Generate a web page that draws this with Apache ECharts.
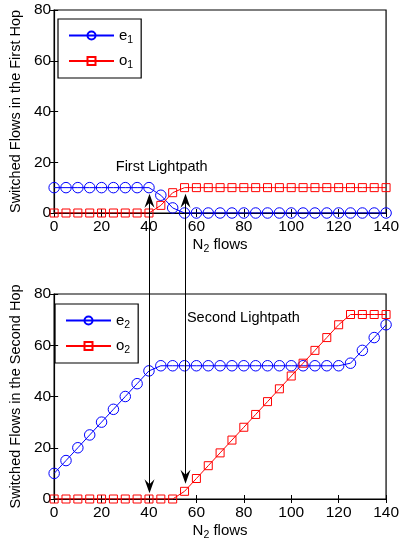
<!DOCTYPE html>
<html lang="en">
<head>
<meta charset="UTF-8">
<title>switched flows</title>
<script src="https://cdn.jsdelivr.net/npm/echarts@6/dist/echarts.min.js"></script>
</head>
<body style="margin:0;background:#fff">
<div id="main" style="width:402px;height:542px;"></div>
<script>
// N2 flows (x) and switched flows per hop
var n2Flows = [0,5,10,15,20,25,30,35,40,45,50,55,60,65,70,75,80,85,90,95,100,105,110,115,120,125,130,135,140];
var e1 = [10,10,10,10,10,10,10,10,10,7,2,0,0,0,0,0,0,0,0,0,0,0,0,0,0,0,0,0,0];
var o1 = [0,0,0,0,0,0,0,0,0,3,8,10,10,10,10,10,10,10,10,10,10,10,10,10,10,10,10,10,10];
var e2 = [10,15,20,25,30,35,40,45,50,52,52,52,52,52,52,52,52,52,52,52,52,52,52,52,52,53,58,63,68];
var o2 = [0,0,0,0,0,0,0,0,0,0,0,3,8,13,18,23,28,33,38,43,48,53,58,63,68,72,72,72,72];

// arrows between the two hops (x value, tip in hop 1, tip in hop 2)
var arrowX = [40, 55];
var arrowTipHop1 = [7.6, 7.6];
var arrowTipHop2 = [2.2, 6];

var noteText = ['First Lightpath', 'Second Lightpath'];
var noteAt = [[26, 18.3], [56, 70.5]];

var FONT = '"Liberation Sans", Arial, sans-serif';
var BLUE = '#0000ff', RED = '#ff0000';

function pairs(ys) {
    return n2Flows.map(function (x, i) { return [x, ys[i]]; });
}
function sub(name) {
    return name.replace(/_(\d)/, '{s|$1}');
}

var myChart = echarts.init(document.getElementById('main'));

var grids = [
    {left: 49, right: 13, top: 10, height: 203},
    {left: 49, right: 13, top: 294, height: 205}
];
grids.forEach(function (g) {
    g.show = true; g.borderColor = '#000'; g.borderWidth = 1.2;
});

var xAxes = [], yAxes = [];
var yNames = ['Switched Flows in the First Hop', 'Switched Flows in the Second Hop'];
[0, 1].forEach(function (gi) {
    xAxes.push({
        gridIndex: gi, type: 'value', min: 0, max: 140, interval: 20,
        name: 'N{s|2} flows', nameLocation: 'middle', nameGap: 22,
        nameTextStyle: {fontFamily: FONT, fontSize: 15, color: '#000',
            rich: {s: {fontFamily: FONT, fontSize: 10.5, padding: [9, 0, 0, 0]}}},
        axisLine: {lineStyle: {color: '#000', width: 1.2}},
        axisTick: {inside: true, length: 4, lineStyle: {color: '#000'}},
        axisLabel: {margin: 6, fontFamily: FONT, fontSize: 15.5, color: '#000'},
        splitLine: {show: false}
    });
    xAxes.push({
        gridIndex: gi, type: 'value', min: 0, max: 140, interval: 20, position: 'top',
        axisLine: {show: false},
        axisTick: {inside: true, length: 4, lineStyle: {color: '#000'}},
        axisLabel: {show: false}, splitLine: {show: false}
    });
    yAxes.push({
        gridIndex: gi, type: 'value', min: 0, max: 80, interval: 20,
        name: yNames[gi], nameLocation: 'middle', nameGap: 27,
        nameTextStyle: {fontFamily: FONT, fontSize: 14.5, color: '#000'},
        axisLine: {lineStyle: {color: '#000', width: 1.2}},
        axisTick: {inside: true, length: 4, lineStyle: {color: '#000'}},
        axisLabel: {margin: 3, fontFamily: FONT, fontSize: 15.5, color: '#000'},
        splitLine: {show: false}
    });
    yAxes.push({
        gridIndex: gi, type: 'value', min: 0, max: 80, interval: 20, position: 'right',
        axisLine: {show: false},
        axisTick: {inside: true, length: 4, lineStyle: {color: '#000'}},
        axisLabel: {show: false}, splitLine: {show: false}
    });
});

function lineSeries(name, ys, gi, color, symbol, size) {
    return {
        name: name, type: 'line', xAxisIndex: gi * 2, yAxisIndex: gi * 2,
        data: pairs(ys), symbol: symbol, symbolSize: size, showAllSymbol: true,
        color: color,
        lineStyle: {color: color, width: 1},
        itemStyle: {color: 'rgba(255,255,255,0)', borderColor: color, borderWidth: 1}
    };
}

function legendFor(names, left, top) {
    return {
        data: names, left: left, top: top, orient: 'vertical',
        borderColor: '#000', borderWidth: 1.2, borderRadius: 0,
        padding: [9, 8, 7, 10], itemWidth: 45, itemHeight: 10, itemGap: 8,
        formatter: sub,
        textStyle: {fontFamily: FONT, fontSize: 15, color: '#000',
            rich: {s: {fontFamily: FONT, fontSize: 10.5, padding: [9, 0, 0, 0]}}}
    };
}

var option = {
    animation: false,
    backgroundColor: '#fff',
    grid: grids,
    xAxis: xAxes,
    yAxis: yAxes,
    legend: [legendFor(['e_1', 'o_1'], 58, 19), legendFor(['e_2', 'o_2'], 55, 304)],
    series: [
        lineSeries('e_1', e1, 0, BLUE, 'circle', 10.5),
        lineSeries('o_1', o1, 0, RED, 'rect', 8),
        lineSeries('e_2', e2, 1, BLUE, 'circle', 10.5),
        lineSeries('o_2', o2, 1, RED, 'rect', 8)
    ]
};
myChart.setOption(option);

// arrows and notes placed through the chart's own scales
var graphics = [];
arrowX.forEach(function (x, i) {
    var p1 = myChart.convertToPixel({gridIndex: 0}, [x, arrowTipHop1[i]]);
    var p2 = myChart.convertToPixel({gridIndex: 1}, [x, arrowTipHop2[i]]);
    var cx = Math.round(p1[0]) + 0.5;
    graphics.push({type: 'line', shape: {x1: cx, y1: p1[1] + 4, x2: cx, y2: p2[1] - 4},
        style: {stroke: '#000', lineWidth: 1}, z: 100});
    graphics.push({type: 'polygon', shape: {points: [[cx, p1[1]], [cx - 5, p1[1] + 14], [cx, p1[1] + 9], [cx + 5, p1[1] + 14]]},
        style: {fill: '#000'}, z: 100});
    graphics.push({type: 'polygon', shape: {points: [[cx, p2[1]], [cx - 5, p2[1] - 14], [cx, p2[1] - 9], [cx + 5, p2[1] - 14]]},
        style: {fill: '#000'}, z: 100});
});
noteText.forEach(function (t, i) {
    var p = myChart.convertToPixel({gridIndex: i}, noteAt[i]);
    graphics.push({type: 'text', x: p[0], y: p[1], z: 100,
        style: {text: t, fontFamily: FONT, fontSize: 14.5, fill: '#000', verticalAlign: 'middle', align: 'left'}});
});
myChart.setOption({graphic: graphics});
</script>
</body>
</html>
